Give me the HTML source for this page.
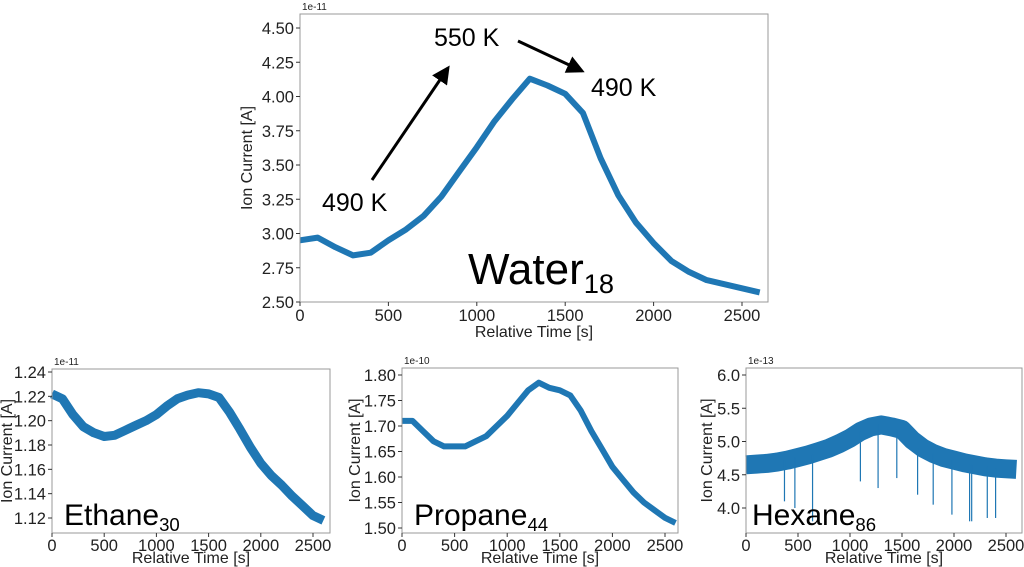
<!DOCTYPE html>
<html><head><meta charset="utf-8"><style>
body{margin:0;background:#fff;}
svg{display:block;font-family:"Liberation Sans",sans-serif;}
</style></head><body>
<svg id="c" width="1024" height="567" xmlns="http://www.w3.org/2000/svg"></svg>
<script>
const times=[0,100,200,300,400,500,600,700,800,900,1000,1100,1200,1300,1400,1500,1600,1700,1800,1900,2000,2100,2200,2300,2400,2500,2600];
const water=[2.95,2.97,2.90,2.84,2.86,2.95,3.03,3.13,3.27,3.45,3.63,3.82,3.98,4.13,4.08,4.02,3.88,3.55,3.28,3.08,2.93,2.80,2.72,2.66,2.63,2.60,2.57];
const ethane=[1.222,1.218,1.205,1.195,1.190,1.187,1.188,1.192,1.196,1.200,1.205,1.212,1.218,1.221,1.223,1.222,1.219,1.207,1.193,1.178,1.165,1.155,1.147,1.138,1.130,1.122,1.118];
const propane=[1.71,1.71,1.69,1.67,1.66,1.66,1.66,1.67,1.68,1.70,1.72,1.745,1.77,1.785,1.775,1.77,1.76,1.73,1.69,1.655,1.62,1.595,1.57,1.55,1.535,1.52,1.51];
const hexane=[4.65,4.66,4.67,4.69,4.72,4.76,4.80,4.85,4.90,4.97,5.05,5.15,5.22,5.25,5.22,5.18,5.02,4.90,4.82,4.76,4.72,4.68,4.65,4.62,4.60,4.59,4.58];
const hexSpikeT=[370,470,640,1100,1270,1450,1650,1800,1980,2150,2170,2320,2400];
const hexSpikeV=[4.1,4.0,3.8,4.4,4.3,4.45,4.2,4.05,3.9,3.8,3.8,3.85,3.85];
const xTicks=[0,500,1000,1500,2000,2500];
const waterTicks=[2.50,2.75,3.00,3.25,3.50,3.75,4.00,4.25,4.50];
const ethaneTicks=[1.12,1.14,1.16,1.18,1.20,1.22,1.24];
const propaneTicks=[1.50,1.55,1.60,1.65,1.70,1.75,1.80];
const hexaneTicks=[4.0,4.5,5.0,5.5,6.0];

const NS="http://www.w3.org/2000/svg";
const svg=document.getElementById('c');
function el(tag,attrs,parent){const e=document.createElementNS(NS,tag);for(const k in attrs)e.setAttribute(k,attrs[k]);(parent||svg).appendChild(e);return e;}

function panel(p){
  const g=el('g',{});
  
  
  const sx=t=>p.x0+(t)*p.kx;
  const sy=v=>p.y0+(v-p.v0)*(p.y1-p.y0)/(p.v1-p.v0);
  let d='';
  p.vals.forEach((v,i)=>{d+=(i?'L':'M')+sx(times[i]).toFixed(1)+' '+sy(v).toFixed(1);});
  const line=el('path',{d:d,fill:'none',stroke:'#1f77b4','stroke-width':p.sw,'stroke-linejoin':'round','stroke-linecap':'butt'},g);
  
  
  if(p.spikeT){
    p.spikeT.forEach((t,i)=>{
      const idx=Math.min(times.length-1,Math.round(t/100));
      const s=el('line',{x1:sx(t),x2:sx(t),y1:sy(p.vals[idx]),y2:sy(p.spikeV[i]),stroke:'#1f77b4','stroke-width':1.2},g);
      
      
    });
  }
  const box=el('rect',{x:p.L,y:p.T,width:p.R-p.L,height:p.B-p.T,fill:'none',stroke:'#999','stroke-width':1},g);
  
  
  xTicks.forEach(t=>{
    el('line',{x1:sx(t),x2:sx(t),y1:p.B,y2:p.B+4,stroke:'#333'},g);
    const tx=el('text',{x:sx(t),y:p.B+p.xto,'font-size':p.fs,'text-anchor':'middle',fill:'#222'},g);
    tx.textContent=t;
    
    
  });
  p.ticks.forEach(v=>{
    el('line',{x1:p.L-4,x2:p.L,y1:sy(v),y2:sy(v),stroke:'#333'},g);
    const tx=el('text',{x:p.L-6,y:sy(v)+6,'font-size':p.fs,'text-anchor':'end',fill:'#222'},g);
    tx.textContent=v.toFixed(p.dec);
    
    
  });
  const xl=el('text',{x:(p.L+p.R)/2,y:p.B+p.xlo,'font-size':p.lfs,'text-anchor':'middle',fill:'#222'},g);
  xl.textContent='Relative Time [s]';
  
  
  const yl=el('text',{x:0,y:0,'font-size':p.lfs,'text-anchor':'middle',fill:'#222',transform:`translate(${p.ylx},${(p.T+p.B)/2}) rotate(-90)`},g);
  yl.textContent='Ion Current [A]';
  
  
  const off=el('text',{x:p.L+2,y:p.T-4,'font-size':10,fill:'#222'},g);
  off.textContent=p.off;
  
  
  const lab=el('text',{x:p.labX,y:p.labY,'font-size':p.labFs,fill:'#000'},g);
  lab.textContent=p.lab;
  const sub=el('tspan',{'font-size':p.labFs*0.62,dy:p.labFs*0.2},lab);
  sub.textContent=p.sub;
  
  
}

panel({name:'water',vals:water,L:300,R:768,T:14,B:302,x0:300,kx:0.1768,v0:2.5,v1:4.5,y0:302,y1:28,sw:6,ticks:waterTicks,dec:2,fs:16.5,lfs:16,xto:19,xlo:35,ylx:252,off:'1e-11',lab:'Water',sub:'18',labX:468,labY:284,labFs:44});
panel({name:'ethane',vals:ethane,L:52,R:330,T:369,B:533,x0:52,kx:0.1044,v0:1.12,v1:1.24,y0:518,y1:372,sw:9,ticks:ethaneTicks,dec:2,fs:16.5,lfs:16,xto:18,xlo:30,ylx:12,off:'1e-11',lab:'Ethane',sub:'30',labX:64,labY:525,labFs:30});
panel({name:'propane',vals:propane,L:402,R:678,T:368,B:533,x0:402,kx:0.1052,v0:1.5,v1:1.8,y0:528,y1:375,sw:6,ticks:propaneTicks,dec:2,fs:16.5,lfs:16,xto:18,xlo:30,ylx:360,off:'1e-10',lab:'Propane',sub:'44',labX:414,labY:525,labFs:30});
panel({name:'hexane',vals:hexane,L:746,R:1022,T:368,B:533,x0:746,kx:0.104,v0:4.0,v1:6.0,y0:508,y1:375,sw:19,ticks:hexaneTicks,dec:1,fs:16.5,lfs:16,xto:18,xlo:30,ylx:712,off:'1e-13',lab:'Hexane',sub:'86',labX:752,labY:525,labFs:30,spikeT:hexSpikeT,spikeV:hexSpikeV});

const defs=el('defs',{});
const m=el('marker',{id:'ah',markerWidth:6,markerHeight:6,refX:5,refY:3,orient:'auto',markerUnits:'strokeWidth'},defs);
el('path',{d:'M0,0 L6,3 L0,6 Z',fill:'#000'},m);
const a1=el('line',{x1:372,y1:180,x2:448,y2:68,stroke:'#000','stroke-width':3,'marker-end':'url(#ah)'});


const a2=el('line',{x1:518,y1:41,x2:582,y2:71,stroke:'#000','stroke-width':3,'marker-end':'url(#ah)'});


[[322,211,'490 K','start-temp-label'],[434,46,'550 K','peak-temp-label'],[591,96,'490 K','end-temp-label']].forEach(a=>{
  const t=el('text',{x:a[0],y:a[1],'font-size':25,fill:'#000'});
  t.textContent=a[2];
  
  
});
</script>
</body></html>
